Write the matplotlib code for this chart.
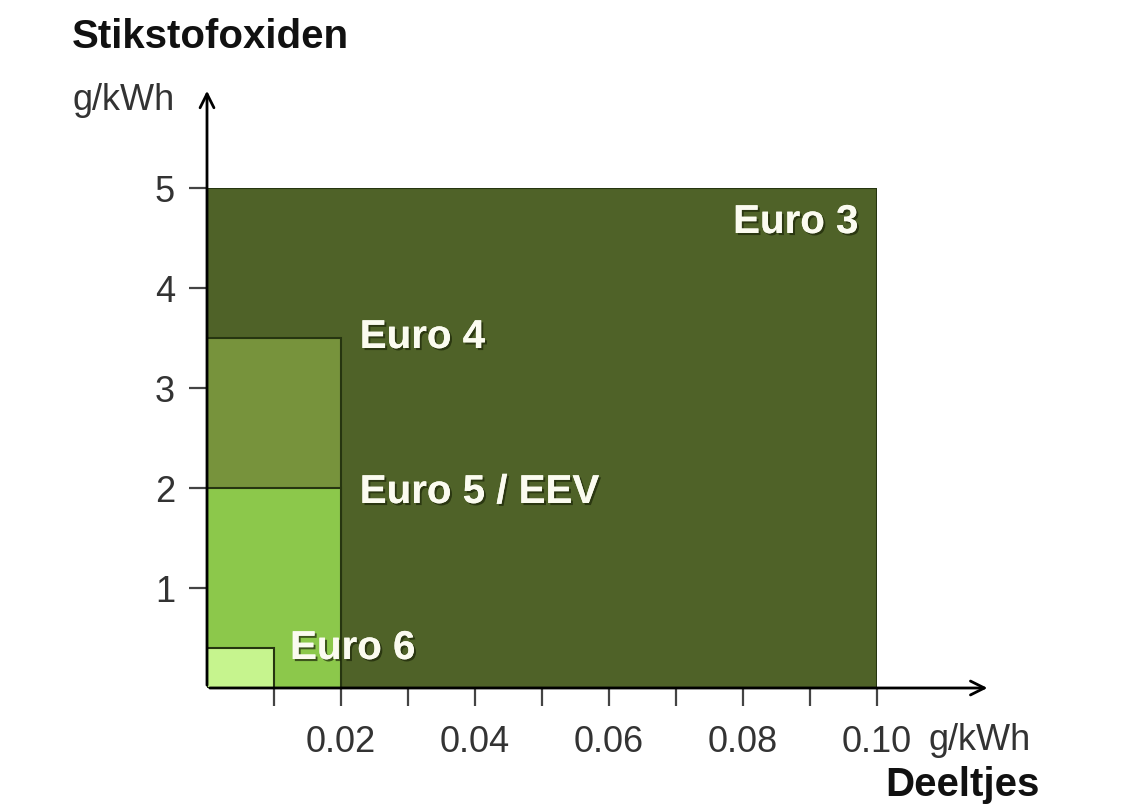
import matplotlib
matplotlib.use('Agg')
import matplotlib.pyplot as plt
import matplotlib.patheffects as pe
from matplotlib.patches import Rectangle

plt.rcParams['font.family'] = ['Liberation Sans', 'DejaVu Sans']

# emissienormen: (naam, deeltjes g/kWh, NOx g/kWh)
norms = ['Euro 3', 'Euro 4', 'Euro 5 / EEV', 'Euro 6']
pm_limits = [0.10, 0.02, 0.02, 0.01]
nox_limits = [5.0, 3.5, 2.0, 0.4]
colors = ['#4f6228', '#77933c', '#8cc84b', '#c6f48e']

x_ticks = [0.01, 0.02, 0.03, 0.04, 0.05, 0.06, 0.07, 0.08, 0.09, 0.10]
x_ticklabels = ['', '0.02', '', '0.04', '', '0.06', '', '0.08', '', '0.10']
y_ticks = [1, 2, 3, 4, 5]

fig = plt.figure(figsize=(11.42, 8.10), dpi=100)
ax = fig.add_axes([207 / 1142, 122 / 810, 670 / 1142, 500 / 810])
ax.set_xlim(0, 0.10)
ax.set_ylim(0, 5)

for pm, nox, c in zip(pm_limits, nox_limits, colors):
    ax.add_patch(Rectangle((0, 0), pm, nox, facecolor=c, edgecolor='#263510',
                           linewidth=1.5, zorder=2))

shadow = [pe.withSimplePatchShadow(offset=(1.5, -1.5), shadow_rgbFace='#1c2608', alpha=0.7),
          pe.Normal()]
lab = dict(color='#fbfbf0', fontsize=29, fontweight='bold', va='center', zorder=5,
           path_effects=shadow)
ax.text(0.0972, 4.66, norms[0], ha='right', **lab)
ax.text(0.0228, 3.51, norms[1], ha='left', **lab)
ax.text(0.0228, 1.96, norms[2], ha='left', **lab)
ax.text(0.0124, 0.40, norms[3], ha='left', **lab)

for s in ax.spines.values():
    s.set_visible(False)

arrow = dict(arrowstyle='->', color='black', lw=2, mutation_scale=25)
ax.annotate('', xy=(0, 6.0), xytext=(0, 0), arrowprops=arrow, annotation_clip=False, zorder=6)
ax.annotate('', xy=(0.1169, 0), xytext=(0, 0), arrowprops=arrow, annotation_clip=False, zorder=6)

ax.set_xticks(x_ticks)
ax.set_xticklabels(x_ticklabels)
ax.set_yticks(y_ticks)
ax.tick_params(axis='both', direction='out', length=13, width=1.6, color='#444444',
               labelsize=26, labelcolor='#333333')
ax.tick_params(axis='x', pad=14)
ax.tick_params(axis='y', pad=10)

fig.text(72 / 1142, 1 - 37 / 810, 'Stikstofoxiden', fontsize=29, fontweight='bold',
         va='center', ha='left', color='#111111')
fig.text(72 / 1142, 1 - 100 / 810, 'g/kWh', fontsize=26, va='center', ha='left',
         color='#333333')
fig.text(928 / 1142, 1 - 740 / 810, 'g/kWh', fontsize=26, va='center', ha='left',
         color='#333333')
fig.text(1040 / 1142, 1 - 785 / 810, 'Deeltjes', fontsize=29, fontweight='bold',
         va='center', ha='right', color='#111111')

fig.savefig('out.png', dpi=100)
